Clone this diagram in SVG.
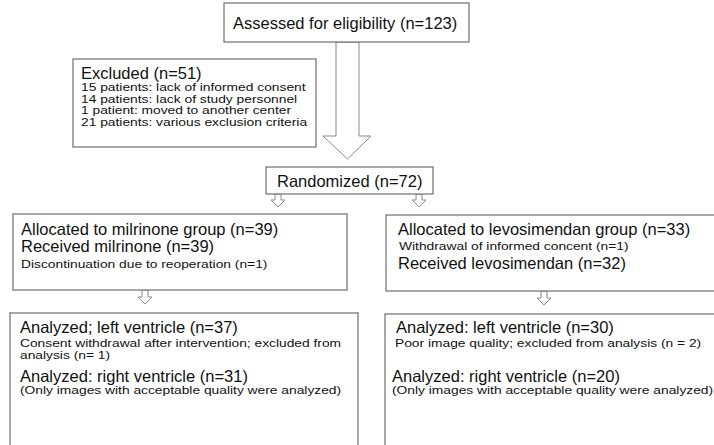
<svg xmlns="http://www.w3.org/2000/svg" width="714" height="445" viewBox="0 0 714 445">
<style>
.box{fill:#fff;stroke:#6e6e6e;stroke-width:1.2}
.arr{fill:#fff;stroke:#8a8a8a;stroke-width:1}
text{font-family:"Liberation Sans",Arial,sans-serif;fill:#111}
.big{font-size:16.5px}
.sm{font-size:11.6px}
</style>
<rect width="714" height="445" fill="#fff"/>
<g id="connectors">
<polygon class="arr" points="336,42 359,42 359,136 371,136 347.5,159 323,136 336,136"/>
<polygon class="arr" points="275,194 281,194 281,200 285,200 278,207 271,200 275,200"/>
<polygon class="arr" points="416,194 422,194 422,200 426,200 419,207 412,200 416,200"/>
<polygon class="arr" points="142,290 148,290 148,297 152,297 145,304 138,297 142,297"/>
<polygon class="arr" points="541,291 547,291 547,298 551,298 544,305 537,298 541,298"/>
</g>
<g id="assessed">
<rect class="box" x="224" y="3" width="245" height="39"/>
<text class="big" x="233" y="29">Assessed for eligibility (n=123)</text>
</g>
<g id="excluded">
<rect class="box" x="73" y="59" width="243" height="88"/>
<text class="big" x="81" y="79">Excluded (n=51)</text>
<text class="sm" transform="translate(81,91) scale(1.19,1)">15 patients: lack of informed consent</text>
<text class="sm" transform="translate(81,102.5) scale(1.19,1)">14 patients: lack of study personnel</text>
<text class="sm" transform="translate(81,114) scale(1.19,1)">1 patient: moved to another center</text>
<text class="sm" transform="translate(81,125.5) scale(1.19,1)">21 patients: various exclusion criteria</text>
</g>
<g id="randomized">
<rect class="box" x="266" y="167" width="167" height="27"/>
<text class="big" x="277" y="187">Randomized (n=72)</text>
</g>
<g id="milrinone">
<rect class="box" x="13" y="214" width="334" height="76"/>
<text class="big" x="21" y="235">Allocated to milrinone group (n=39)</text>
<text class="big" x="21" y="252">Received milrinone (n=39)</text>
<text class="sm" transform="translate(21,268) scale(1.19,1)">Discontinuation due to reoperation (n=1)</text>
</g>
<g id="levosimendan">
<rect class="box" x="386" y="215" width="340" height="76"/>
<text class="big" x="398" y="235">Allocated to levosimendan group (n=33)</text>
<text class="sm" transform="translate(399,250) scale(1.19,1)">Withdrawal of informed concent (n=1)</text>
<text class="big" x="398" y="269">Received levosimendan (n=32)</text>
</g>
<g id="analyzed-milrinone">
<rect class="box" x="10" y="313" width="348" height="140"/>
<text class="big" x="20" y="333">Analyzed; left ventricle (n=37)</text>
<text class="sm" transform="translate(20,347) scale(1.19,1)">Consent withdrawal after intervention; excluded from</text>
<text class="sm" transform="translate(20,359) scale(1.19,1)">analysis (n= 1)</text>
<text class="big" x="20" y="382">Analyzed: right ventricle (n=31)</text>
<text class="sm" transform="translate(20,394) scale(1.19,1)">(Only images with acceptable quality were analyzed)</text>
</g>
<g id="analyzed-levosimendan">
<rect class="box" x="385" y="314" width="340" height="140"/>
<text class="big" x="396" y="333">Analyzed: left ventricle (n=30)</text>
<text class="sm" transform="translate(395,347) scale(1.19,1)">Poor image quality; excluded from analysis (n = 2)</text>
<text class="big" x="392" y="382">Analyzed: right ventricle (n=20)</text>
<text class="sm" transform="translate(392,394) scale(1.19,1)">(Only images with acceptable quality were analyzed)</text>
</g>
</svg>
